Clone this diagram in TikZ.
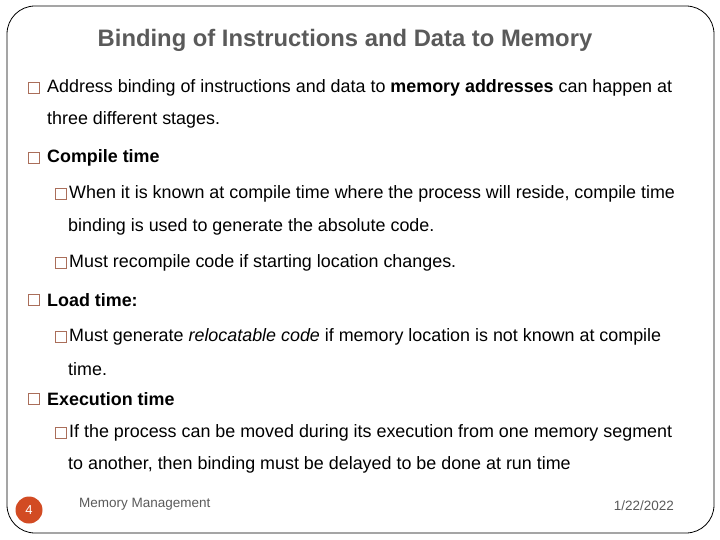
\documentclass[tikz,border=0pt]{standalone}
\usepackage{fontspec}
\setmainfont{Liberation Sans}
\definecolor{boxbrown}{RGB}{170,110,90}
\definecolor{slidered}{RGB}{210,75,35}
\definecolor{titlegray}{RGB}{90,90,90}
\tikzset{
  txt/.style={anchor=west,inner sep=0pt,font=\fontsize{17.9}{20}\selectfont},
  bulletbox/.style={draw=boxbrown,thin,minimum size=11pt,inner sep=0pt},
  foot/.style={inner sep=0pt,text=titlegray,font=\fontsize{13.5}{15}\selectfont}
}
\begin{document}
\begin{tikzpicture}[x=1pt,y=-1pt]
  \useasboundingbox (0,0) rectangle (720,540);
  %frame
  \draw[thick,rounded corners=28pt] (7,6) rectangle (714,533);
  %title
  \node[inner sep=0pt,text=titlegray,font=\fontsize{23.8}{26}\selectfont\bfseries] (title) at (345,40) {Binding of Instructions and Data to Memory};

  %first level
  \node[bulletbox] (b1) at (34,88) {};
  \node[txt] (t1) at (47,88) {Address binding of instructions and data to \textbf{memory addresses} can happen at};
  \node[txt] (t1b) at (47,120) {three different stages.};
  \node[bulletbox] (b2) at (34,158) {};
  \node[txt] (t2) at (47,158) {\textbf{Compile time}};
  %compile time
  \node[bulletbox] (b21) at (61,194) {};
  \node[txt] (t21) at (69,194) {When it is known at compile time where the process will reside, compile time};
  \node[txt] (t21b) at (68,227) {binding is used to generate the absolute code.};
  \node[bulletbox] (b22) at (61,263) {};
  \node[txt] (t22) at (69,263) {Must recompile code if starting location changes.};
  %load time
  \node[bulletbox] (b3) at (34,300) {};
  \node[txt] (t3) at (47,300) {\textbf{Load time:}};
  \node[bulletbox] (b31) at (61,337) {};
  \node[txt] (t31) at (69,337) {Must generate \textit{relocatable code} if memory location is not known at compile};
  \node[txt] (t31b) at (68,369) {time.};
  %execution time
  \node[bulletbox] (b4) at (34,399) {};
  \node[txt] (t4) at (47,399) {\textbf{Execution time}};
  \node[bulletbox] (b41) at (61,433) {};
  \node[txt] (t41) at (69,433) {If the process can be moved during its execution from one memory segment};
  \node[txt] (t41b) at (68,465) {to another, then binding must be delayed to be done at run time};

  %footer
  \node[circle,fill=slidered,minimum size=27pt,inner sep=0pt,text=white,font=\fontsize{13}{15}\selectfont] (page) at (29,510) {4};
  \node[foot,anchor=west] (footl) at (79,504) {Memory Management};
  \node[foot,anchor=east] (date) at (674,506) {1/22/2022};
\end{tikzpicture}
\end{document}
